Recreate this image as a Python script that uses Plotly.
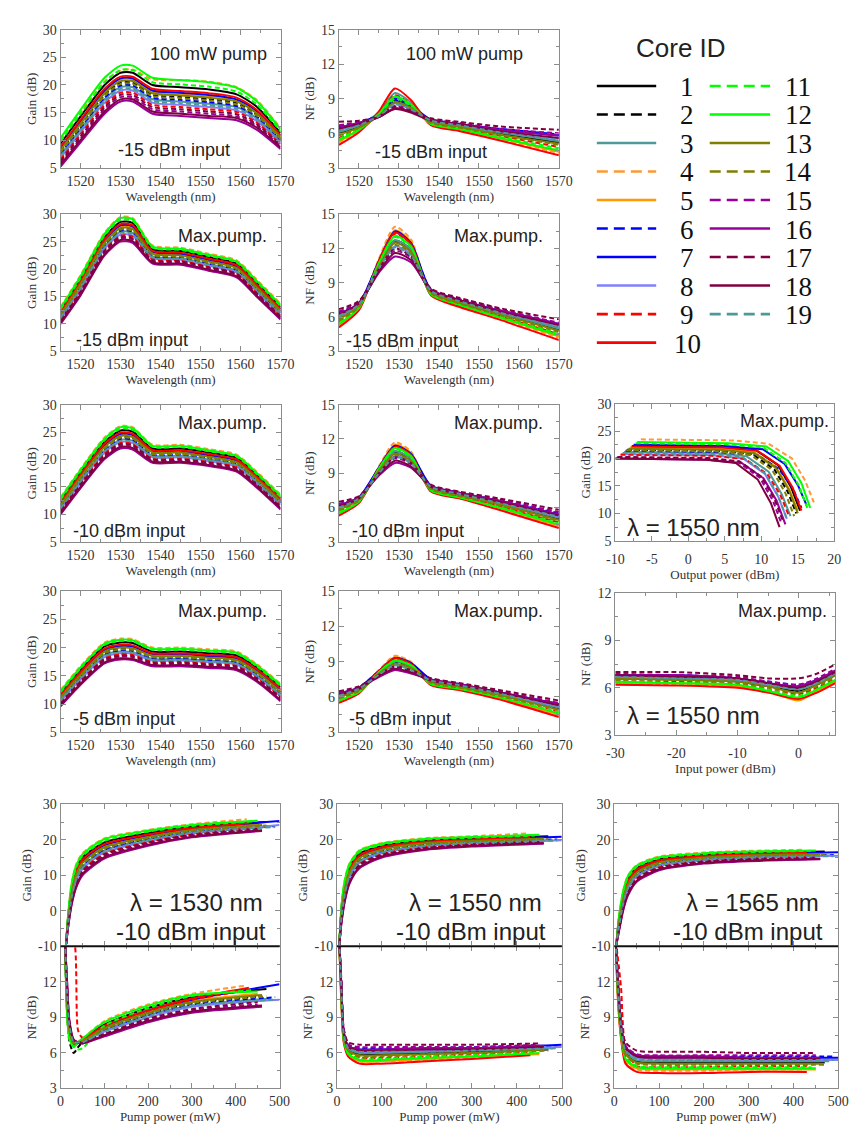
import plotly.graph_objects as go

W, H = 859, 1133

# ---------------------------------------------------------------- cores
CORE_IDS = list(range(1, 20))
CORE_COLORS = ["#000000", "#000000", "#4d9999", "#ff9933", "#ff9900", "#0000ff", "#0000ff",
               "#8080ff", "#ff0000", "#ff0000", "#00ff00", "#00ff00", "#808000", "#808000",
               "#990099", "#990099", "#800040", "#800040", "#4d9999"]
CORE_DASHED = [False, True, False, True, False, True, False, False, True, False,
               True, False, False, True, True, False, True, False, True]

# ---------------------------------------------------------------- gain spectra (dB)
WL_GAIN = [1515, 1520, 1526, 1530, 1533, 1538, 1545, 1552, 1559, 1564, 1570]

GAIN_100MW_M15 = [
    [9.4, 14.3, 20.0, 22.2, 22.2, 20.0, 19.6, 19.2, 18.3, 16.1, 11.3],
    [8.0, 12.7, 18.2, 20.4, 20.4, 18.2, 17.8, 17.4, 16.7, 14.7, 10.3],
    [7.3, 12.0, 17.4, 19.6, 19.6, 17.4, 17.0, 16.6, 16.0, 14.0, 9.9],
    [10.0, 15.0, 20.6, 22.6, 22.8, 21.0, 20.9, 20.6, 19.6, 17.3, 12.2],
    [8.4, 13.2, 18.8, 21.0, 21.0, 18.8, 18.4, 18.0, 17.2, 15.1, 10.6],
    [7.6, 12.2, 17.7, 19.9, 19.9, 17.7, 17.3, 16.9, 16.2, 14.3, 10.0],
    [8.6, 13.4, 19.0, 21.2, 21.2, 19.0, 18.6, 18.2, 17.4, 15.3, 10.8],
    [6.8, 11.4, 16.8, 19.0, 19.0, 16.8, 16.4, 16.0, 15.4, 13.5, 9.5],
    [6.5, 11.1, 16.4, 18.6, 18.6, 16.4, 16.0, 15.6, 15.1, 13.2, 9.3],
    [8.8, 13.7, 19.3, 21.5, 21.5, 19.3, 18.9, 18.5, 17.7, 15.5, 10.9],
    [9.8, 14.8, 20.5, 22.7, 22.7, 20.5, 20.1, 19.7, 18.8, 16.5, 11.6],
    [10.4, 15.5, 21.3, 23.5, 23.5, 21.3, 20.9, 20.5, 19.5, 17.1, 12.0],
    [8.2, 13.0, 18.5, 20.7, 20.7, 18.5, 18.1, 17.7, 17.0, 14.9, 10.5],
    [7.8, 12.5, 18.0, 20.2, 20.2, 18.0, 17.6, 17.2, 16.5, 14.5, 10.2],
    [5.9, 10.3, 15.6, 17.8, 17.8, 15.6, 15.2, 14.8, 14.3, 12.6, 8.9],
    [5.2, 9.6, 14.8, 17.0, 17.0, 14.8, 14.4, 14.0, 13.6, 11.9, 8.4],
    [6.2, 10.7, 16.0, 18.2, 18.2, 16.0, 15.6, 15.2, 14.7, 12.9, 9.1],
    [5.6, 10.0, 15.2, 17.4, 17.4, 15.2, 14.8, 14.4, 14.0, 12.3, 8.7],
    [7.1, 11.7, 17.1, 19.3, 19.3, 17.1, 16.7, 16.3, 15.7, 13.8, 9.7],
]

GAIN_MAX_M15 = [
    [12.5, 18.2, 25.8, 28.6, 28.4, 23.6, 23.3, 22.2, 21.0, 17.5, 13.1],
    [11.6, 17.1, 24.6, 27.3, 27.1, 22.7, 22.4, 21.3, 20.1, 16.6, 12.3],
    [11.2, 16.6, 24.1, 26.8, 26.6, 22.3, 22.0, 20.9, 19.7, 16.2, 11.9],
    [13.1, 18.9, 26.6, 29.5, 29.3, 24.3, 23.9, 22.8, 21.6, 18.1, 13.7],
    [11.9, 17.5, 25.0, 27.8, 27.6, 23.0, 22.7, 21.6, 20.4, 16.9, 12.6],
    [11.3, 16.8, 24.3, 27.0, 26.8, 22.4, 22.1, 21.0, 19.8, 16.3, 12.1],
    [12.0, 17.6, 25.2, 28.0, 27.8, 23.2, 22.8, 21.7, 20.5, 17.0, 12.7],
    [10.9, 16.3, 23.7, 26.3, 26.1, 22.0, 21.7, 20.6, 19.4, 15.9, 11.6],
    [10.8, 16.1, 23.5, 26.1, 25.9, 21.8, 21.5, 20.4, 19.2, 15.7, 11.5],
    [12.2, 17.8, 25.4, 28.2, 28.0, 23.3, 23.0, 21.9, 20.7, 17.2, 12.8],
    [12.7, 18.4, 26.1, 29.0, 28.8, 23.9, 23.5, 22.4, 21.2, 17.7, 13.3],
    [12.9, 18.7, 26.4, 29.3, 29.1, 24.1, 23.7, 22.6, 21.4, 17.9, 13.5],
    [11.7, 17.3, 24.8, 27.5, 27.3, 22.8, 22.5, 21.4, 20.2, 16.7, 12.4],
    [11.5, 17.0, 24.5, 27.2, 27.0, 22.6, 22.3, 21.2, 20.0, 16.5, 12.2],
    [10.4, 15.7, 23.0, 25.6, 25.4, 21.4, 21.2, 20.1, 18.9, 15.4, 11.2],
    [10.0, 15.2, 22.5, 25.0, 24.8, 21.0, 20.8, 19.7, 18.5, 15.0, 10.8],
    [10.6, 15.9, 23.3, 25.8, 25.6, 21.6, 21.4, 20.3, 19.1, 15.6, 11.3],
    [10.2, 15.4, 22.7, 25.3, 25.1, 21.2, 21.0, 19.9, 18.7, 15.2, 11.0],
    [11.1, 16.5, 23.9, 26.6, 26.4, 22.1, 21.9, 20.8, 19.6, 16.1, 11.8],
]

GAIN_MAX_M10 = [
    [12.5, 17.6, 23.2, 25.3, 25.1, 22.0, 22.0, 21.3, 20.3, 17.2, 13.0],
    [11.6, 16.6, 22.1, 24.1, 23.9, 21.1, 21.1, 20.4, 19.4, 16.4, 12.3],
    [11.2, 16.2, 21.6, 23.6, 23.4, 20.7, 20.7, 20.0, 19.0, 16.0, 12.0],
    [13.1, 18.3, 24.0, 26.1, 25.9, 22.7, 22.7, 21.9, 20.9, 17.8, 13.6],
    [11.9, 16.9, 22.5, 24.5, 24.3, 21.4, 21.4, 20.7, 19.7, 16.7, 12.5],
    [11.4, 16.3, 21.8, 23.8, 23.6, 20.9, 20.9, 20.2, 19.2, 16.2, 12.1],
    [12.0, 17.1, 22.7, 24.7, 24.5, 21.6, 21.6, 20.8, 19.8, 16.8, 12.6],
    [10.9, 15.8, 21.3, 23.2, 23.0, 20.4, 20.4, 19.7, 18.7, 15.8, 11.7],
    [10.8, 15.7, 21.1, 23.0, 22.8, 20.2, 20.2, 19.6, 18.6, 15.6, 11.6],
    [12.2, 17.3, 22.9, 24.9, 24.7, 21.7, 21.7, 21.0, 20.0, 16.9, 12.8],
    [12.7, 17.9, 23.5, 25.6, 25.4, 22.3, 22.3, 21.5, 20.5, 17.4, 13.2],
    [12.9, 18.1, 23.8, 25.9, 25.7, 22.5, 22.5, 21.7, 20.7, 17.6, 13.4],
    [11.7, 16.8, 22.3, 24.3, 24.1, 21.3, 21.3, 20.5, 19.5, 16.5, 12.4],
    [11.5, 16.5, 22.0, 24.0, 23.8, 21.0, 21.0, 20.3, 19.3, 16.3, 12.2],
    [10.4, 15.2, 20.6, 22.5, 22.3, 19.8, 19.8, 19.2, 18.2, 15.3, 11.2],
    [10.0, 14.8, 20.1, 22.0, 21.8, 19.4, 19.4, 18.8, 17.8, 14.9, 10.9],
    [10.6, 15.5, 20.8, 22.8, 22.6, 20.0, 20.0, 19.4, 18.4, 15.5, 11.4],
    [10.2, 15.0, 20.3, 22.3, 22.1, 19.6, 19.6, 19.0, 18.0, 15.1, 11.1],
    [11.1, 16.0, 21.5, 23.4, 23.2, 20.5, 20.5, 19.9, 18.9, 15.9, 11.8],
]

GAIN_MAX_M5 = [
    [11.9, 16.0, 20.2, 20.9, 20.8, 19.3, 19.3, 19.0, 18.6, 16.5, 13.0],
    [11.1, 15.1, 19.1, 19.8, 19.7, 18.4, 18.4, 18.1, 17.7, 15.6, 12.1],
    [10.7, 14.7, 18.7, 19.3, 19.2, 18.0, 18.0, 17.7, 17.3, 15.2, 11.7],
    [12.5, 16.7, 20.9, 21.6, 21.5, 20.0, 20.0, 19.7, 19.3, 17.1, 13.6],
    [11.4, 15.4, 19.5, 20.1, 20.0, 18.7, 18.7, 18.4, 18.0, 15.9, 12.4],
    [10.8, 14.8, 18.8, 19.5, 19.4, 18.1, 18.1, 17.8, 17.4, 15.3, 11.8],
    [11.5, 15.6, 19.6, 20.3, 20.2, 18.9, 18.9, 18.5, 18.1, 16.0, 12.5],
    [10.5, 14.4, 18.3, 19.0, 18.9, 17.7, 17.7, 17.4, 17.0, 14.9, 11.4],
    [10.3, 14.2, 18.1, 18.8, 18.7, 17.5, 17.5, 17.2, 16.8, 14.8, 11.3],
    [11.6, 15.7, 19.8, 20.5, 20.4, 19.0, 19.0, 18.7, 18.3, 16.2, 12.7],
    [12.1, 16.3, 20.5, 21.2, 21.1, 19.6, 19.6, 19.3, 18.9, 16.7, 13.2],
    [12.3, 16.5, 20.7, 21.4, 21.3, 19.8, 19.8, 19.5, 19.1, 16.9, 13.4],
    [11.2, 15.2, 19.3, 20.0, 19.9, 18.5, 18.5, 18.2, 17.8, 15.7, 12.2],
    [11.0, 15.0, 19.0, 19.7, 19.6, 18.3, 18.3, 18.0, 17.6, 15.5, 12.0],
    [10.0, 13.8, 17.7, 18.4, 18.3, 17.1, 17.1, 16.8, 16.4, 14.4, 10.9],
    [9.6, 13.4, 17.2, 17.9, 17.8, 16.7, 16.7, 16.4, 16.0, 14.0, 10.5],
    [10.2, 14.0, 17.9, 18.6, 18.5, 17.3, 17.3, 17.0, 16.6, 14.6, 11.1],
    [9.8, 13.6, 17.4, 18.1, 18.0, 16.9, 16.9, 16.6, 16.2, 14.2, 10.7],
    [10.6, 14.5, 18.5, 19.2, 19.1, 17.8, 17.8, 17.5, 17.1, 15.0, 11.6],
]

# ---------------------------------------------------------------- noise-figure spectra (dB)
WL_NF = [1515, 1520, 1525, 1529, 1533, 1538, 1545, 1555, 1570]

NF_100MW_M15 = [
    [6.0, 6.6, 7.7, 9.1, 8.4, 7.0, 6.6, 6.0, 5.2],
    [6.1, 6.7, 7.6, 8.9, 8.3, 7.0, 6.6, 6.1, 5.3],
    [6.1, 6.7, 7.8, 9.5, 8.7, 7.0, 6.6, 6.1, 5.3],
    [5.2, 6.2, 7.7, 9.1, 8.4, 6.8, 6.3, 5.5, 4.3],
    [5.3, 6.3, 7.7, 9.2, 8.5, 6.8, 6.3, 5.6, 4.4],
    [6.6, 6.9, 7.6, 8.8, 8.2, 7.2, 6.8, 6.4, 5.9],
    [6.5, 6.9, 7.6, 9.0, 8.4, 7.2, 6.8, 6.3, 5.8],
    [6.3, 6.8, 7.5, 8.6, 8.1, 7.1, 6.7, 6.2, 5.5],
    [5.6, 6.4, 7.7, 9.3, 8.5, 6.9, 6.4, 5.8, 4.8],
    [5.0, 6.1, 7.9, 9.9, 8.9, 6.7, 6.2, 5.4, 4.1],
    [5.5, 6.4, 7.6, 9.0, 8.4, 6.9, 6.4, 5.7, 4.7],
    [5.4, 6.3, 7.7, 9.2, 8.5, 6.8, 6.4, 5.6, 4.5],
    [5.9, 6.5, 7.5, 8.7, 8.2, 7.0, 6.6, 5.9, 5.1],
    [5.8, 6.5, 7.5, 8.7, 8.2, 6.9, 6.5, 5.9, 5.0],
    [6.7, 7.0, 7.5, 8.4, 8.0, 7.2, 6.9, 6.4, 6.0],
    [6.5, 6.9, 7.4, 8.2, 7.9, 7.2, 6.8, 6.3, 5.8],
    [7.0, 7.1, 7.4, 8.3, 7.9, 7.3, 7.0, 6.6, 6.3],
    [6.4, 6.8, 7.4, 8.1, 7.8, 7.1, 6.8, 6.2, 5.6],
    [6.2, 6.7, 7.5, 8.5, 8.1, 7.1, 6.7, 6.1, 5.4],
]

NF_MAX_M15 = [
    [5.9, 7.0, 10.6, 12.7, 11.9, 8.2, 7.3, 6.3, 4.9],
    [6.0, 7.0, 10.5, 12.6, 11.8, 8.2, 7.3, 6.4, 5.0],
    [6.0, 7.0, 10.6, 12.7, 11.9, 8.2, 7.3, 6.4, 5.0],
    [5.3, 6.7, 11.1, 13.9, 12.8, 8.0, 7.0, 5.9, 4.2],
    [5.3, 6.7, 11.0, 13.6, 12.6, 8.0, 7.0, 6.0, 4.3],
    [6.4, 7.2, 10.9, 13.4, 12.4, 8.4, 7.5, 6.6, 5.4],
    [6.3, 7.2, 10.9, 13.5, 12.5, 8.4, 7.5, 6.6, 5.4],
    [6.1, 7.1, 10.3, 12.2, 11.5, 8.3, 7.4, 6.5, 5.2],
    [5.6, 6.8, 10.8, 13.3, 12.3, 8.1, 7.1, 6.1, 4.5],
    [5.1, 6.6, 10.9, 13.4, 12.4, 7.9, 6.9, 5.8, 4.0],
    [5.5, 6.8, 10.7, 13.0, 12.1, 8.1, 7.1, 6.1, 4.5],
    [5.4, 6.8, 10.7, 13.1, 12.2, 8.0, 7.1, 6.0, 4.4],
    [5.8, 7.0, 10.4, 12.5, 11.7, 8.2, 7.3, 6.3, 4.8],
    [5.7, 6.9, 10.4, 12.3, 11.6, 8.1, 7.2, 6.2, 4.7],
    [6.5, 7.3, 10.1, 11.8, 11.2, 8.4, 7.6, 6.7, 5.5],
    [6.3, 7.2, 9.9, 11.3, 10.8, 8.4, 7.5, 6.6, 5.4],
    [6.7, 7.4, 10.2, 12.0, 11.3, 8.5, 7.7, 6.8, 5.8],
    [6.2, 7.2, 10.0, 11.6, 11.0, 8.3, 7.5, 6.5, 5.3],
    [6.1, 7.1, 10.3, 12.1, 11.4, 8.3, 7.4, 6.4, 5.1],
]

NF_MAX_M10 = [
    [5.9, 6.7, 9.2, 10.9, 10.3, 7.7, 7.1, 6.3, 5.0],
    [6.0, 6.7, 9.2, 10.8, 10.2, 7.7, 7.1, 6.4, 5.1],
    [6.0, 6.7, 9.2, 10.9, 10.3, 7.7, 7.1, 6.4, 5.1],
    [5.4, 6.5, 9.6, 11.7, 10.9, 7.5, 6.9, 5.9, 4.4],
    [5.5, 6.5, 9.5, 11.5, 10.8, 7.5, 6.9, 6.0, 4.4],
    [6.3, 6.9, 9.4, 11.3, 10.6, 7.9, 7.3, 6.6, 5.5],
    [6.2, 6.9, 9.5, 11.4, 10.7, 7.9, 7.3, 6.6, 5.4],
    [6.1, 6.8, 9.1, 10.5, 10.0, 7.8, 7.2, 6.5, 5.2],
    [5.7, 6.6, 9.4, 11.3, 10.6, 7.6, 7.0, 6.1, 4.7],
    [5.3, 6.4, 9.4, 11.3, 10.6, 7.4, 6.8, 5.8, 4.2],
    [5.6, 6.6, 9.3, 11.1, 10.4, 7.6, 7.0, 6.1, 4.6],
    [5.5, 6.5, 9.4, 11.2, 10.5, 7.5, 6.9, 6.0, 4.5],
    [5.8, 6.7, 9.2, 10.7, 10.1, 7.7, 7.1, 6.3, 4.9],
    [5.8, 6.6, 9.1, 10.6, 10.1, 7.6, 7.0, 6.2, 4.8],
    [6.3, 6.9, 9.0, 10.3, 9.8, 7.9, 7.3, 6.7, 5.6],
    [6.2, 6.9, 8.8, 9.9, 9.5, 7.9, 7.3, 6.6, 5.4],
    [6.5, 7.0, 9.0, 10.4, 9.9, 8.0, 7.4, 6.8, 5.8],
    [6.1, 6.8, 8.9, 10.1, 9.6, 7.8, 7.2, 6.5, 5.3],
    [6.0, 6.8, 9.0, 10.4, 9.9, 7.8, 7.2, 6.4, 5.2],
]

NF_MAX_M5 = [
    [6.0, 6.6, 8.0, 9.0, 8.6, 7.3, 6.9, 6.2, 5.0],
    [6.1, 6.6, 8.0, 8.9, 8.5, 7.3, 6.9, 6.2, 5.1],
    [6.1, 6.6, 8.0, 9.0, 8.6, 7.3, 6.9, 6.2, 5.1],
    [5.6, 6.4, 8.3, 9.5, 9.0, 7.1, 6.7, 5.9, 4.4],
    [5.7, 6.4, 8.2, 9.4, 8.9, 7.1, 6.7, 5.9, 4.5],
    [6.3, 6.8, 8.2, 9.3, 8.8, 7.5, 7.1, 6.4, 5.4],
    [6.3, 6.8, 8.2, 9.3, 8.9, 7.5, 7.1, 6.4, 5.4],
    [6.2, 6.7, 7.9, 8.7, 8.4, 7.4, 7.0, 6.3, 5.2],
    [5.8, 6.5, 8.2, 9.2, 8.8, 7.2, 6.8, 6.0, 4.7],
    [5.5, 6.3, 8.2, 9.3, 8.8, 7.0, 6.6, 5.8, 4.3],
    [5.8, 6.5, 8.1, 9.1, 8.7, 7.2, 6.8, 6.0, 4.7],
    [5.7, 6.4, 8.1, 9.1, 8.7, 7.1, 6.7, 6.0, 4.6],
    [6.0, 6.6, 8.0, 8.8, 8.5, 7.3, 6.9, 6.2, 4.9],
    [5.9, 6.5, 7.9, 8.8, 8.4, 7.2, 6.8, 6.1, 4.9],
    [6.4, 6.8, 7.8, 8.5, 8.2, 7.5, 7.1, 6.5, 5.5],
    [6.3, 6.8, 7.7, 8.3, 8.0, 7.5, 7.1, 6.4, 5.4],
    [6.5, 6.9, 7.9, 8.6, 8.3, 7.6, 7.2, 6.6, 5.7],
    [6.2, 6.7, 7.8, 8.4, 8.1, 7.4, 7.0, 6.4, 5.3],
    [6.1, 6.7, 7.9, 8.7, 8.3, 7.4, 7.0, 6.3, 5.1],
]

# ---------------------------------------------------------------- gain vs output power at 1550 nm
OUT_POWER = [
    [-7.7, 4.8, 9.3, 12.3, 14.1, 15.3],
    [-8.4, 4.1, 8.8, 11.8, 13.6, 14.8],
    [-8.8, 3.7, 8.0, 11.0, 12.8, 14.0],
    [-6.5, 6.0, 11.0, 14.2, 16.0, 17.2],
    [-8.0, 4.5, 9.0, 12.0, 13.8, 15.0],
    [-8.6, 3.9, 9.5, 12.5, 14.3, 15.5],
    [-7.5, 5.0, 10.2, 13.2, 15.0, 16.2],
    [-9.2, 3.3, 7.5, 10.5, 12.3, 13.5],
    [-9.3, 3.2, 7.8, 10.8, 12.6, 13.8],
    [-7.8, 4.7, 9.5, 12.5, 14.3, 15.5],
    [-7.2, 5.3, 10.3, 13.3, 15.1, 16.3],
    [-7.0, 5.5, 10.7, 13.7, 15.5, 16.7],
    [-8.2, 4.3, 9.0, 12.0, 13.8, 15.0],
    [-8.5, 4.0, 8.5, 11.5, 13.3, 14.5],
    [-9.8, 2.7, 6.8, 9.8, 11.6, 12.8],
    [-10.0, 2.5, 7.3, 10.3, 12.1, 13.3],
    [-9.7, 2.8, 7.0, 10.0, 11.8, 13.0],
    [-10.0, 2.5, 6.5, 9.5, 11.3, 12.5],
    [-9.0, 3.5, 7.5, 10.5, 12.3, 13.5],
]
GAIN_VS_OUT = [
    [22.3, 22.1, 21.5, 18.8, 14.7, 10.5],
    [21.6, 21.4, 20.8, 18.0, 14.0, 10.0],
    [21.2, 21.0, 20.4, 17.6, 13.5, 9.5],
    [23.5, 23.3, 22.7, 20.0, 16.0, 12.0],
    [22.0, 21.8, 21.2, 18.5, 14.5, 10.5],
    [21.4, 21.2, 20.6, 18.0, 14.6, 11.0],
    [22.5, 22.3, 21.7, 19.0, 15.2, 11.5],
    [20.8, 20.6, 20.0, 17.2, 13.1, 9.0],
    [20.7, 20.5, 19.9, 17.2, 13.4, 9.5],
    [22.2, 22.0, 21.4, 18.7, 14.7, 10.5],
    [22.8, 22.6, 22.0, 19.2, 15.2, 11.0],
    [23.0, 22.8, 22.2, 19.5, 15.5, 11.0],
    [21.8, 21.6, 21.0, 18.3, 14.2, 10.0],
    [21.5, 21.3, 20.7, 17.9, 13.7, 9.5],
    [20.2, 20.0, 19.4, 16.5, 12.3, 8.0],
    [20.0, 19.8, 19.2, 16.4, 12.3, 8.0],
    [20.3, 20.1, 19.5, 16.7, 12.6, 8.5],
    [20.0, 19.8, 19.2, 16.2, 11.9, 7.5],
    [21.0, 20.8, 20.2, 17.3, 13.2, 9.0],
]

# ---------------------------------------------------------------- NF vs input power at 1550 nm
IN_POWER = [-30, -20, -10, -5, 0, 3, 6]
NF_VS_IN = [
    [6.6, 6.55, 6.4, 6.1, 5.8, 6.2, 6.8],
    [6.6, 6.6, 6.4, 6.1, 5.9, 6.3, 6.9],
    [6.6, 6.6, 6.4, 6.2, 5.9, 6.3, 6.8],
    [6.3, 6.2, 6.1, 5.7, 5.3, 5.8, 6.4],
    [6.3, 6.3, 6.1, 5.8, 5.2, 5.8, 6.4],
    [6.8, 6.8, 6.6, 6.4, 6.2, 6.5, 7.1],
    [6.8, 6.8, 6.6, 6.3, 6.1, 6.5, 7.0],
    [6.7, 6.7, 6.5, 6.2, 6.0, 6.4, 6.9],
    [6.4, 6.4, 6.2, 5.9, 5.6, 6.0, 6.6],
    [6.2, 6.15, 6.0, 5.7, 5.3, 5.7, 6.3],
    [6.4, 6.3, 6.2, 5.9, 5.5, 5.9, 6.5],
    [6.4, 6.3, 6.2, 5.8, 5.4, 5.9, 6.5],
    [6.6, 6.5, 6.4, 6.1, 5.7, 6.2, 6.8],
    [6.5, 6.5, 6.3, 6.0, 5.7, 6.1, 6.7],
    [6.9, 6.8, 6.7, 6.4, 6.2, 6.6, 7.2],
    [6.8, 6.8, 6.6, 6.3, 6.1, 6.5, 7.1],
    [7.0, 7.0, 6.8, 6.6, 6.6, 6.9, 7.5],
    [6.8, 6.7, 6.6, 6.3, 6.0, 6.4, 7.0],
    [6.7, 6.6, 6.5, 6.2, 5.9, 6.3, 6.9],
]

# ---------------------------------------------------------------- pump sweeps, -10 dBm input
PUMP_MAX = [470, 460, 480, 425, 450, 490, 500, 500, 430, 430,
            440, 450, 460, 470, 450, 460, 450, 460, 490]

PUMP_GAIN_1530_X = [12, 18, 25, 35, 50, 100, 200, 300]
PUMP_GAIN_1530 = [
    [-10, -0.7, 6.5, 11.6, 15.0, 19.3, 21.9, 23.7, 25.0],
    [-10, -1.9, 4.7, 9.7, 13.2, 17.6, 20.6, 22.6, 24.1],
    [-10, -2.4, 3.9, 8.9, 12.4, 17.0, 20.1, 22.2, 23.7],
    [-10, 0.1, 7.7, 12.9, 16.2, 20.4, 22.8, 24.4, 25.8],
    [-10, -1.5, 5.3, 10.3, 13.8, 18.2, 21.1, 23.0, 24.4],
    [-10, -2.2, 4.2, 9.2, 12.7, 17.2, 20.3, 22.3, 23.9],
    [-10, -1.3, 5.6, 10.6, 14.1, 18.5, 21.3, 23.1, 25.3],
    [-10, -2.8, 3.3, 8.2, 11.8, 16.4, 19.6, 21.8, 24.2],
    [-10, -3.0, 3.0, 7.9, 11.5, 16.1, 19.4, 21.6, 23.3],
    [-10, -1.1, 5.9, 11.0, 14.4, 18.8, 21.5, 23.3, 24.7],
    [-10, -0.4, 6.9, 12.1, 15.4, 19.7, 22.3, 23.9, 25.2],
    [-10, -0.1, 7.4, 12.5, 15.9, 20.2, 22.6, 24.2, 25.4],
    [-10, -1.7, 5.0, 10.0, 13.5, 17.9, 20.8, 22.8, 24.2],
    [-10, -2.0, 4.5, 9.5, 13.0, 17.5, 20.5, 22.5, 24.0],
    [-10, -3.5, 2.3, 7.1, 10.8, 15.4, 18.9, 21.2, 22.9],
    [-10, -4.0, 1.5, 6.3, 10.0, 14.7, 18.3, 20.7, 22.5],
    [-10, -3.3, 2.6, 7.5, 11.1, 15.8, 19.2, 21.4, 23.1],
    [-10, -3.8, 1.9, 6.7, 10.4, 15.1, 18.6, 20.9, 22.7],
    [-10, -2.6, 3.6, 8.6, 12.1, 16.7, 19.9, 22.0, 23.6],
]

PUMP_GAIN_1550_X = [5, 10, 18, 28, 50, 100, 200, 300]
PUMP_GAIN_1550 = [
    [-10, 0.6, 8.0, 12.3, 16.1, 18.3, 19.8, 20.4, 21.0],
    [-10, -0.9, 6.2, 10.6, 14.6, 17.1, 18.9, 19.6, 20.3],
    [-10, -1.5, 5.4, 9.9, 14.0, 16.6, 18.5, 19.2, 19.9],
    [-10, 1.6, 9.2, 13.4, 17.1, 19.1, 20.5, 21.0, 21.8],
    [-10, -0.4, 6.8, 11.2, 15.1, 17.5, 19.2, 19.9, 20.5],
    [-10, -1.3, 5.7, 10.2, 14.3, 16.8, 18.7, 19.4, 20.1],
    [-10, -0.1, 7.1, 11.5, 15.4, 17.7, 19.4, 20.0, 20.9],
    [-10, -2.0, 4.8, 9.4, 13.5, 16.2, 18.2, 19.0, 19.9],
    [-10, -2.3, 4.5, 9.1, 13.3, 16.0, 18.0, 18.8, 19.6],
    [-10, 0.1, 7.4, 11.8, 15.6, 17.9, 19.5, 20.1, 20.8],
    [-10, 1.0, 8.4, 12.7, 16.5, 18.6, 20.1, 20.6, 21.2],
    [-10, 1.4, 8.9, 13.2, 16.9, 18.9, 20.3, 20.8, 21.4],
    [-10, -0.6, 6.5, 10.9, 14.9, 17.3, 19.1, 19.7, 20.4],
    [-10, -1.0, 6.0, 10.5, 14.5, 17.0, 18.8, 19.5, 20.2],
    [-10, -2.9, 3.8, 8.4, 12.6, 15.5, 17.6, 18.5, 19.2],
    [-10, -3.5, 3.0, 7.7, 12.0, 15.0, 17.2, 18.1, 18.9],
    [-10, -2.6, 4.2, 8.8, 13.0, 15.8, 17.8, 18.7, 19.4],
    [-10, -3.2, 3.4, 8.1, 12.3, 15.3, 17.4, 18.3, 19.1],
    [-10, -1.8, 5.1, 9.7, 13.8, 16.4, 18.3, 19.1, 19.8],
]

PUMP_GAIN_1565_X = [4, 10, 20, 30, 50, 100, 200, 300]
PUMP_GAIN_1565 = [
    [-10, -2.7, 4.8, 8.8, 12.0, 14.5, 15.8, 16.3, 16.7],
    [-10, -3.9, 3.1, 7.1, 10.6, 13.4, 14.9, 15.5, 15.9],
    [-10, -4.4, 2.5, 6.5, 10.1, 12.9, 14.5, 15.1, 15.6],
    [-10, -1.9, 5.9, 9.9, 12.9, 15.3, 16.4, 16.9, 17.2],
    [-10, -3.5, 3.7, 7.7, 11.1, 13.8, 15.2, 15.8, 16.1],
    [-10, -4.2, 2.7, 6.7, 10.3, 13.1, 14.7, 15.3, 15.7],
    [-10, -3.3, 4.0, 8.0, 11.3, 14.0, 15.3, 15.9, 16.5],
    [-10, -4.8, 1.9, 5.9, 9.6, 12.6, 14.2, 14.9, 15.5],
    [-10, -5.0, 1.6, 5.6, 9.4, 12.4, 14.1, 14.7, 15.2],
    [-10, -3.1, 4.3, 8.3, 11.6, 14.2, 15.5, 16.0, 16.4],
    [-10, -2.4, 5.3, 9.3, 12.4, 14.8, 16.0, 16.5, 16.9],
    [-10, -2.1, 5.7, 9.7, 12.7, 15.1, 16.2, 16.7, 17.0],
    [-10, -3.7, 3.4, 7.4, 10.8, 13.6, 15.0, 15.6, 16.0],
    [-10, -4.0, 3.0, 7.0, 10.5, 13.3, 14.8, 15.4, 15.8],
    [-10, -5.5, 0.9, 4.9, 8.8, 11.9, 13.7, 14.4, 14.8],
    [-10, -6.0, 0.2, 4.2, 8.2, 11.4, 13.3, 14.0, 14.5],
    [-10, -5.3, 1.3, 5.3, 9.1, 12.1, 13.9, 14.6, 15.0],
    [-10, -5.8, 0.6, 4.6, 8.5, 11.7, 13.5, 14.2, 14.7],
    [-10, -4.6, 2.2, 6.2, 9.8, 12.8, 14.4, 15.0, 15.4],
]

PUMP_NF_1530_X = [10, 15, 20, 30, 40, 50, 100, 200, 300]
PUMP_NF_1530 = [
    [15.5, 9.5, 7.5, 6.6, 6.9, 7.2, 8.4, 9.8, 10.7, 11.4],
    [15.5, 9.5, 7.0, 6.0, 6.5, 6.9, 8.0, 9.3, 10.2, 10.8],
    [15.5, 10.8, 8.2, 6.9, 6.9, 7.0, 7.9, 9.2, 10.0, 10.6],
    [15.5, 8.9, 7.2, 6.5, 6.9, 7.2, 8.7, 10.1, 11.0, 11.7],
    [15.5, 10.1, 7.8, 6.7, 6.9, 7.1, 8.2, 9.5, 10.4, 11.0],
    [15.5, 10.7, 8.1, 6.8, 6.9, 7.0, 7.9, 9.2, 10.1, 10.7],
    [15.5, 10.0, 7.7, 6.7, 6.9, 7.1, 8.2, 9.6, 10.5, 11.8],
    [15.5, 11.1, 8.3, 6.9, 6.9, 6.9, 7.8, 9.0, 9.9, 10.5],
    [15.5, 15.5, 15.5, 15.5, 7.9, 7.3, 8.1, 9.5, 10.5, 11.3],
    [15.5, 9.8, 7.6, 6.6, 6.9, 7.1, 8.3, 9.6, 10.6, 11.5],
    [15.5, 9.3, 7.3, 6.5, 6.3, 6.4, 8.3, 9.8, 10.8, 11.3],
    [15.5, 9.1, 7.2, 6.5, 6.9, 7.2, 8.6, 10.0, 10.9, 11.2],
    [15.5, 10.3, 7.9, 6.8, 6.9, 7.0, 8.1, 9.4, 10.3, 10.9],
    [15.5, 10.5, 8.0, 6.8, 6.9, 7.0, 8.0, 9.3, 10.2, 10.8],
    [15.5, 11.6, 8.6, 7.0, 6.9, 6.9, 7.6, 8.8, 9.6, 10.1],
    [15.5, 12.0, 8.8, 7.1, 6.9, 6.8, 7.4, 8.6, 9.4, 9.9],
    [15.5, 11.4, 8.5, 7.0, 6.9, 6.9, 7.6, 8.9, 9.7, 10.3],
    [15.5, 11.8, 8.7, 7.1, 6.9, 6.8, 7.5, 8.7, 9.5, 10.0],
    [15.5, 11.0, 8.3, 6.9, 6.9, 6.9, 7.8, 9.1, 10.0, 10.5],
]

PUMP_NF_1550_X = [5, 10, 15, 25, 50, 100, 200, 300]
PUMP_NF_1550 = [
    [15.5, 11.0, 7.5, 6.3, 5.9, 5.9, 6.0, 6.1, 6.3],
    [15.5, 11.1, 7.6, 6.4, 6.0, 6.0, 6.1, 6.2, 6.4],
    [15.5, 11.1, 7.6, 6.4, 6.0, 6.0, 6.1, 6.2, 6.4],
    [15.5, 10.2, 7.0, 5.8, 5.3, 5.3, 5.4, 5.6, 5.9],
    [15.5, 10.3, 7.1, 5.9, 5.3, 5.3, 5.5, 5.7, 5.9],
    [15.5, 11.6, 7.9, 6.7, 6.4, 6.4, 6.4, 6.5, 6.6],
    [15.5, 11.5, 7.8, 6.6, 6.3, 6.3, 6.4, 6.4, 6.7],
    [15.5, 11.3, 7.7, 6.5, 6.1, 6.1, 6.2, 6.3, 6.5],
    [15.5, 10.6, 7.3, 6.1, 5.6, 5.6, 5.7, 5.9, 6.1],
    [15.5, 10.0, 6.9, 5.7, 5.1, 5.1, 5.3, 5.5, 5.8],
    [15.5, 10.5, 7.2, 6.0, 5.5, 5.5, 5.7, 5.8, 6.1],
    [15.5, 10.4, 7.1, 5.9, 5.4, 5.4, 5.6, 5.7, 6.0],
    [15.5, 10.9, 7.4, 6.2, 5.8, 5.8, 5.9, 6.0, 6.3],
    [15.5, 10.8, 7.4, 6.2, 5.7, 5.7, 5.9, 6.0, 6.2],
    [15.5, 11.7, 7.9, 6.7, 6.5, 6.5, 6.5, 6.5, 6.7],
    [15.5, 11.5, 7.8, 6.6, 6.3, 6.3, 6.4, 6.4, 6.6],
    [15.5, 12.0, 8.1, 6.9, 6.7, 6.7, 6.7, 6.7, 6.8],
    [15.5, 11.4, 7.7, 6.5, 6.2, 6.2, 6.3, 6.3, 6.5],
    [15.5, 11.2, 7.6, 6.4, 6.1, 6.1, 6.1, 6.2, 6.4],
]

PUMP_NF_1565_X = [3, 8, 15, 25, 50, 100, 200, 300]
PUMP_NF_1565 = [
    [15.5, 11.5, 8.0, 6.0, 5.3, 5.2, 5.2, 5.2, 5.2],
    [15.5, 11.6, 8.1, 6.1, 5.4, 5.3, 5.3, 5.3, 5.3],
    [15.5, 11.6, 8.1, 6.1, 5.4, 5.3, 5.3, 5.3, 5.3],
    [15.5, 10.7, 7.4, 5.3, 4.6, 4.5, 4.5, 4.6, 4.6],
    [15.5, 10.8, 7.4, 5.4, 4.7, 4.6, 4.6, 4.6, 4.6],
    [15.5, 12.1, 8.5, 6.5, 5.8, 5.7, 5.7, 5.7, 5.7],
    [15.5, 12.0, 8.4, 6.5, 5.8, 5.7, 5.7, 5.6, 5.6],
    [15.5, 11.8, 8.2, 6.3, 5.6, 5.5, 5.5, 5.4, 5.4],
    [15.5, 14.0, 11.5, 6.5, 4.9, 4.8, 4.8, 4.9, 4.9],
    [15.5, 10.5, 7.2, 5.1, 4.4, 4.3, 4.3, 4.4, 4.4],
    [15.5, 11.0, 7.6, 5.6, 4.9, 4.8, 4.8, 4.8, 4.8],
    [15.5, 10.9, 7.5, 5.5, 4.8, 4.7, 4.7, 4.7, 4.7],
    [15.5, 11.4, 7.9, 5.9, 5.2, 5.1, 5.1, 5.1, 5.1],
    [15.5, 11.3, 7.8, 5.8, 5.1, 5.0, 5.0, 5.0, 5.0],
    [15.5, 12.2, 8.6, 6.6, 5.9, 5.8, 5.8, 5.8, 5.8],
    [15.5, 12.0, 8.4, 6.5, 5.8, 5.7, 5.7, 5.6, 5.6],
    [15.5, 12.5, 8.8, 6.9, 6.2, 6.1, 6.1, 6.0, 6.0],
    [15.5, 11.9, 8.3, 6.4, 5.7, 5.6, 5.6, 5.5, 5.5],
    [15.5, 11.7, 8.2, 6.2, 5.5, 5.4, 5.4, 5.4, 5.4],
]

# ---------------------------------------------------------------- styling helpers
SERIF = "Liberation Serif, Times New Roman, DejaVu Serif, serif"
SANS = "Liberation Sans, Arial, Helvetica, sans-serif"
FRAME = "#8c8c8c"
TXT = "#333333"


def dom_x(a, b):
    return [a / W, b / W]


def dom_y(top, bottom):
    return [1 - bottom / H, 1 - top / H]


def make_axis(domain, anchor, rng, tick0, dtick, minor, title=None, labels=True,
              last=None, standoff=None):
    # explicit tick text keeps a plain hyphen on negative numbers
    stop = rng[1] if last is None else last
    vals = []
    v = tick0
    while v <= stop + 1e-9:
        vals.append(v)
        v += dtick
    ax = dict(domain=domain, anchor=anchor, range=rng, showline=True, linecolor=FRAME,
              linewidth=1, mirror="ticks", ticks="inside", ticklen=5, tickwidth=1,
              tickcolor=FRAME, showticklabels=labels, showgrid=False, zeroline=False,
              tickmode="array", tickvals=vals, ticktext=[f"{t:g}" for t in vals],
              tickfont=dict(family=SERIF, size=14, color=TXT),
              minor=dict(ticks="inside", ticklen=3, tickcolor=FRAME, dtick=minor,
                         tick0=tick0, showgrid=False))
    if standoff is not None:
        ax["ticklabelstandoff"] = standoff
    if title:
        ax["title"] = dict(text=title, font=dict(family=SERIF, size=13, color=TXT), standoff=3)
    return ax


fig = go.Figure()
layout = {}
annotations = []
shapes = []


def axis_names(i):
    s = "" if i == 1 else str(i)
    return "xaxis" + s, "yaxis" + s, "x" + s, "y" + s


def add_curves(i, xs, rows, shape="spline", per_core_end=None):
    _, _, xr, yr = axis_names(i)
    for k, ys in zip(CORE_IDS, rows):
        x = list(xs) + ([per_core_end[k - 1]] if per_core_end else [])
        line = dict(color=CORE_COLORS[k - 1], width=2.0,
                    dash="5px,3px" if CORE_DASHED[k - 1] else "solid", shape=shape)
        if shape == "spline":
            line["smoothing"] = 0.7
        fig.add_trace(go.Scatter(x=x, y=ys, mode="lines", line=line, xaxis=xr, yaxis=yr,
                                 showlegend=False, hoverinfo="skip"))


def note(text, x, y, size, family=SANS):
    annotations.append(dict(text=text, x=x / W, y=1 - y / H, xref="paper", yref="paper",
                            showarrow=False, xanchor="center", yanchor="middle",
                            font=dict(family=family, size=size, color="#222222")))


def panel(i, xpx, ypx, xspec, yspec):
    xa, ya, xr, yr = axis_names(i)
    layout[xa] = make_axis(dom_x(*xpx), yr, **xspec)
    layout[ya] = make_axis(dom_y(*ypx), xr, **yspec)


WL_X = dict(rng=[1515, 1570], tick0=1520, dtick=10, minor=5, title="Wavelength (nm)")
GAIN_Y = dict(rng=[5, 30], tick0=5, dtick=5, minor=2.5, title="Gain (dB)")
NF_Y = dict(rng=[3, 15], tick0=3, dtick=3, minor=1.5, title="NF (dB)")

COL1, COL2, COL3 = (53, 279), (339, 565), (623, 848)
ROW1, ROW2, ROW3, ROW4 = (23, 163), (210, 349), (403, 542), (592, 735)

# ---- wavelength panels
panel(1, COL1, ROW1, WL_X, GAIN_Y)
add_curves(1, WL_GAIN, GAIN_100MW_M15)
panel(2, COL2, ROW1, WL_X, NF_Y)
add_curves(2, WL_NF, NF_100MW_M15)
panel(3, COL1, ROW2, WL_X, GAIN_Y)
add_curves(3, WL_GAIN, GAIN_MAX_M15)
panel(4, COL2, ROW2, WL_X, NF_Y)
add_curves(4, WL_NF, NF_MAX_M15)
panel(5, COL1, ROW3, WL_X, GAIN_Y)
add_curves(5, WL_GAIN, GAIN_MAX_M10)
panel(6, COL2, ROW3, WL_X, NF_Y)
add_curves(6, WL_NF, NF_MAX_M10)
panel(8, COL1, ROW4, WL_X, GAIN_Y)
add_curves(8, WL_GAIN, GAIN_MAX_M5)
panel(9, COL2, ROW4, WL_X, NF_Y)
add_curves(9, WL_NF, NF_MAX_M5)

# ---- gain vs output power
panel(7, COL3, (402, 541),
      dict(rng=[-10, 20], tick0=-10, dtick=5, minor=2.5, title="Output power (dBm)",
           standoff=5),
      GAIN_Y)
_, _, xr7, yr7 = axis_names(7)
for k in CORE_IDS:
    fig.add_trace(go.Scatter(
        x=OUT_POWER[k - 1], y=GAIN_VS_OUT[k - 1], mode="lines", xaxis=xr7, yaxis=yr7,
        line=dict(color=CORE_COLORS[k - 1], width=2.0,
                  dash="5px,3px" if CORE_DASHED[k - 1] else "solid"),
        showlegend=False, hoverinfo="skip"))

# ---- NF vs input power
panel(10, (623, 849), (594, 738),
      dict(rng=[-30, 6], tick0=-30, dtick=10, minor=5, title="Input power (dBm)",
           standoff=5),
      dict(rng=[3, 12], tick0=3, dtick=3, minor=1.5, title="NF (dB)"))
add_curves(10, IN_POWER, NF_VS_IN)

# ---- pump sweeps (gain on top, NF below, shared pump axis)
PUMP_COLS = [(53, 278), (337, 568), (622, 852)]
GAIN_TOP, SPLIT, NF_BOTTOM = 808, 952, 1096
PUMP_SETS = [
    (PUMP_GAIN_1530_X, PUMP_GAIN_1530, PUMP_NF_1530_X, PUMP_NF_1530, "λ = 1530 nm"),
    (PUMP_GAIN_1550_X, PUMP_GAIN_1550, PUMP_NF_1550_X, PUMP_NF_1550, "λ = 1550 nm"),
    (PUMP_GAIN_1565_X, PUMP_GAIN_1565, PUMP_NF_1565_X, PUMP_NF_1565, "λ = 1565 nm"),
]
for j, (col, (gx, gy, nx, ny, lam)) in enumerate(zip(PUMP_COLS, PUMP_SETS)):
    gi, ni = 11 + 2 * j, 12 + 2 * j
    panel(gi, col, (GAIN_TOP, SPLIT),
          dict(rng=[0, 500], tick0=0, dtick=100, minor=50, labels=False),
          dict(rng=[-10, 30], tick0=-10, dtick=10, minor=5, title="Gain (dB)"))
    panel(ni, col, (SPLIT, NF_BOTTOM),
          dict(rng=[0, 500], tick0=0, dtick=100, minor=50, title="Pump power (mW)"),
          dict(rng=[3, 15], tick0=3, dtick=3, minor=1.5, title="NF (dB)", last=12))
    add_curves(gi, gx, gy, per_core_end=PUMP_MAX)
    add_curves(ni, nx, ny, per_core_end=PUMP_MAX)
    shapes.append(dict(type="line", xref="paper", yref="paper", x0=col[0] / W, x1=col[1] / W,
                       y0=1 - SPLIT / H, y1=1 - SPLIT / H, line=dict(color="#111111", width=1.6),
                       layer="above"))
    cx = (col[0] + col[1]) / 2
    note(lam, cx + 27, 908, 24)
    note("-10 dBm input", cx + 22, 937, 24)

# ---- panel labels
note("100 mW pump", 205, 48, 18)
note("-15 dBm input", 170, 145, 18)
note("100 mW pump", 468, 48, 18)
note("-15 dBm input", 434, 147, 18)
for cx, cy in [(219, 232), (503, 232), (219, 422), (503, 422), (219, 612), (503, 612),
               (797, 420), (795, 612)]:
    note("Max.pump.", cx, cy, 18)
note("-15 dBm input", 126, 337, 18)
note("-15 dBm input", 404, 338, 18)
note("-10 dBm input", 123, 531, 18)
note("-10 dBm input", 410, 531, 18)
note("-5 dBm input", 118, 722, 18)
note("-5 dBm input", 402, 722, 18)
note("λ = 1550 nm", 703, 527, 24)
note("λ = 1550 nm", 703, 718, 24)

# ---- core key
layout["xaxis17"] = dict(domain=[590 / W, 1], range=[590, 859], visible=False, fixedrange=True)
layout["yaxis17"] = dict(domain=[1 - 360 / H, 1], range=[360, 0], visible=False, fixedrange=True)
note("Core ID", 690, 42, 26)
for k in CORE_IDS:
    col = 0 if k <= 10 else 1
    row = (k - 1) if k <= 10 else (k - 11)
    yk = 80 + row * 28.9
    x0, x1 = (604, 665) if col == 0 else (720, 782)
    fig.add_trace(go.Scatter(
        x=[x0, x1], y=[yk, yk], mode="lines", xaxis="x17", yaxis="y17",
        line=dict(color=CORE_COLORS[k - 1], width=2.6,
                  dash="11px,6px" if CORE_DASHED[k - 1] else "solid"),
        showlegend=False, hoverinfo="skip"))
    annotations.append(dict(text=str(k), x=697 if col == 0 else 811, y=yk + 1,
                            xref="x17", yref="y17", showarrow=False, xanchor="center",
                            yanchor="middle",
                            font=dict(family=SERIF, size=27, color="#111111")))

fig.update_layout(width=W, height=H, margin=dict(l=0, r=0, t=0, b=0),
                  paper_bgcolor="white", plot_bgcolor="white", showlegend=False,
                  annotations=annotations, shapes=shapes, **layout)
fig.write_html("out.html")
